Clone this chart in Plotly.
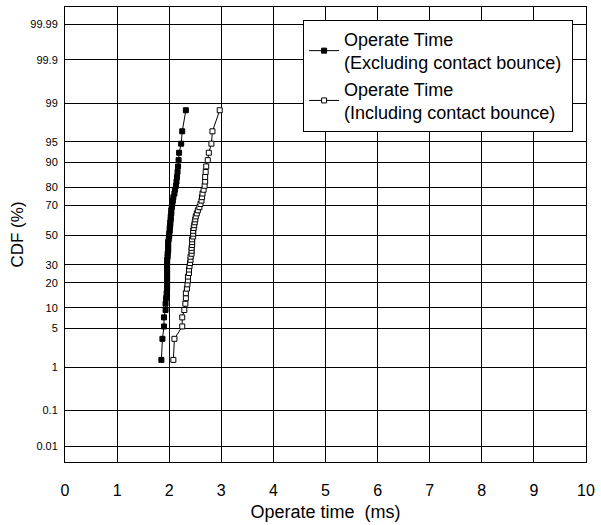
import plotly.graph_objects as go
from statistics import NormalDist

# CDF plotting positions (%), shared by both series (50 samples each)
cdf_percent = [1.39, 3.37, 5.36, 7.34, 9.33, 11.31, 13.29, 15.28, 17.26, 19.25,
               21.23, 23.21, 25.20, 27.18, 29.17, 31.15, 33.13, 35.12, 37.10, 39.09,
               41.07, 43.06, 45.04, 47.02, 49.01, 50.99, 52.98, 54.96, 56.94, 58.93,
               60.91, 62.90, 64.88, 66.87, 68.85, 70.83, 72.82, 74.80, 76.79, 78.77,
               80.75, 82.74, 84.72, 86.71, 88.69, 90.67, 92.66, 94.64, 96.63, 98.61]

excluding_ms = [1.85, 1.87, 1.90, 1.90, 1.93, 1.93, 1.94, 1.95, 1.96, 1.96,
                1.96, 1.96, 1.96, 1.96, 1.96, 1.96, 1.96, 1.97, 1.97, 1.98,
                1.98, 1.98, 1.98, 1.99, 2.00, 2.00, 2.01, 2.01, 2.02, 2.02,
                2.03, 2.03, 2.04, 2.04, 2.05, 2.06, 2.07, 2.08, 2.10, 2.11,
                2.13, 2.14, 2.15, 2.16, 2.17, 2.18, 2.19, 2.23, 2.25, 2.32]

including_ms = [2.08, 2.10, 2.25, 2.25, 2.29, 2.31, 2.32, 2.32, 2.34, 2.35,
                2.36, 2.36, 2.38, 2.38, 2.39, 2.40, 2.41, 2.41, 2.43, 2.43,
                2.43, 2.44, 2.44, 2.44, 2.46, 2.46, 2.46, 2.47, 2.48, 2.49,
                2.50, 2.51, 2.53, 2.55, 2.58, 2.60, 2.62, 2.63, 2.64, 2.66,
                2.68, 2.69, 2.69, 2.70, 2.71, 2.74, 2.76, 2.81, 2.83, 2.97]

y_tick_percent = [99.99, 99.9, 99, 95, 90, 80, 70, 50, 30, 20, 10, 5, 1, 0.1, 0.01]
y_tick_labels = ["99.99", "99.9", "99", "95", "90", "80", "70", "50", "30", "20",
                 "10", "5", "1", "0.1", "0.01"]
x_ticks = list(range(0, 11))

nd = NormalDist()
def probit(pct):
    return nd.inv_cdf(pct / 100.0)

y_vals = [probit(p) for p in cdf_percent]
y_tickvals = [probit(p) for p in y_tick_percent]

FONT = "Arial, Liberation Sans, sans-serif"
CLEAR = "rgba(0,0,0,0)"

fig = go.Figure()
fig.add_trace(go.Scatter(
    x=excluding_ms, y=y_vals, mode="lines+markers",
    name="Operate Time<br>(Excluding contact bounce)\u00a0",
    line=dict(color="black", width=1),
    marker=dict(symbol="square", size=5, color="black", line=dict(color="black", width=1)),
))
fig.add_trace(go.Scatter(
    x=including_ms, y=y_vals, mode="lines+markers",
    name="Operate Time<br>(Including contact bounce)\u00a0",
    line=dict(color="black", width=1),
    marker=dict(symbol="square", size=5, color="white", line=dict(color="black", width=1)),
))

fig.update_layout(
    width=601, height=525,
    margin=dict(l=65, r=10, t=6, b=59),
    paper_bgcolor="white", plot_bgcolor="white",
    font=dict(family=FONT, color="black"),
    showlegend=True,
    legend=dict(
        x=0.457, y=0.972, xanchor="left", yanchor="top",
        bgcolor="white", bordercolor="black", borderwidth=1,
        font=dict(family=FONT, size=18, color="black"),
        tracegroupgap=0, itemwidth=30,
    ),
    xaxis=dict(
        range=[0, 10], tickvals=x_ticks, ticktext=[str(v) for v in x_ticks],
        showgrid=True, gridcolor="black", gridwidth=1,
        showline=True, linecolor="black", linewidth=1, mirror=True,
        zeroline=False, ticks="outside", ticklen=14, tickcolor=CLEAR,
        tickfont=dict(size=16),
        title=dict(text="Operate time \u00a0(ms)", font=dict(size=18), standoff=7),
    ),
    yaxis=dict(
        range=[-4.0, 4.02], tickvals=y_tickvals, ticktext=y_tick_labels,
        showgrid=True, gridcolor="black", gridwidth=1,
        showline=True, linecolor="black", linewidth=1, mirror=True,
        zeroline=False, ticks="outside", ticklen=4, tickcolor=CLEAR,
        tickfont=dict(size=11),
        title=dict(text="CDF (%)", font=dict(size=17), standoff=2),
    ),
)

fig.write_html("out.html", config={"displayModeBar": False},
               post_script="document.body.style.margin='0';")
